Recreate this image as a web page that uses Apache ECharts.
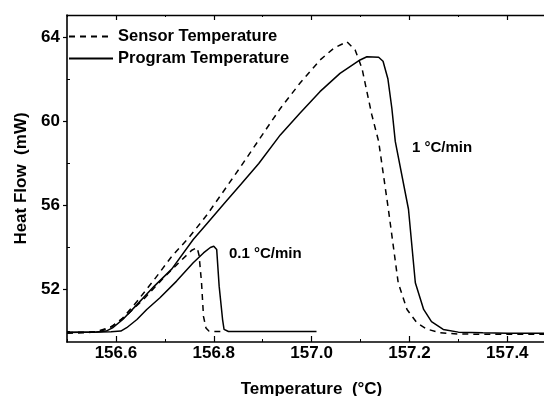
<!DOCTYPE html>
<html><head><meta charset="utf-8">
<script src="https://cdn.jsdelivr.net/npm/echarts@6/dist/echarts.min.js"></script>
<style>html,body{margin:0;padding:0;background:#fff}#c{width:544px;height:396px}</style>
</head><body><div id="c"></div>
<script>
// ---- tick labels ----
const xTickLabels = [156.6, 156.8, 157.0, 157.2, 157.4];
const xMinorTicks = [156.5, 156.7, 156.9, 157.1, 157.3];
const yTickLabels = [52, 56, 60, 64];
const yMinorTicks = [50, 54, 58, 62];

// ---- 1 °C/min, sensor temperature (dashed) ----
const sensor1T  = [156.50,156.54,156.572,156.593,156.614,156.643,156.678,156.714,156.749,156.785,156.82,156.856,156.895,156.936,156.976,157.017,157.045,157.072,157.089,157.103,157.113,157.123,157.137,157.157,157.177,157.195,157.215,157.235,157.263,157.30,157.35,157.475];
const sensor1HF = [49.90,49.92,50.02,50.23,50.62,51.41,52.44,53.55,54.45,55.50,56.66,57.86,59.20,60.60,61.80,62.90,63.46,63.78,63.38,62.51,61.40,60.30,59.03,55.78,52.30,51.03,50.40,50.10,49.92,49.86,49.85,49.85];

// ---- 1 °C/min, program temperature (solid) ----
const program1T  = [156.50,156.53,156.56,156.58,156.593,156.614,156.643,156.678,156.714,156.758,156.785,156.82,156.856,156.892,156.936,156.976,157.017,157.058,157.099,157.113,157.137,157.146,157.156,157.164,157.171,157.198,157.212,157.229,157.245,157.269,157.30,157.35,157.40,157.475];
const program1HF = [49.93,49.95,49.96,50.00,50.15,50.55,51.26,52.13,52.95,54.36,55.09,56.04,57.00,57.98,59.34,60.37,61.40,62.27,62.91,63.06,63.04,62.85,62.00,60.61,59.03,55.80,52.30,51.03,50.45,50.08,49.95,49.92,49.90,49.90];

// ---- 0.1 °C/min, sensor temperature (dashed) ----
const sensor01T  = [156.50,156.56,156.59,156.62,156.66,156.70,156.735,156.755,156.766,156.770,156.775,156.779,156.784,156.79,156.80,156.82];
const sensor01HF = [49.92,49.97,50.20,50.70,51.60,52.60,53.40,53.85,53.97,53.60,52.30,50.70,50.15,50.00,49.98,49.98];

// ---- 0.1 °C/min, program temperature (solid) ----
const program01T  = [156.50,156.55,156.59,156.61,156.622,156.643,156.663,156.69,156.724,156.758,156.779,156.793,156.800,156.806,156.811,156.818,156.821,156.83,157.01];
const program01HF = [49.95,49.95,49.97,50.00,50.16,50.55,51.03,51.59,52.38,53.25,53.72,53.98,54.04,53.88,52.14,50.55,50.08,49.98,49.98];

const seriesNames = ['Sensor Temperature', 'Program Temperature'];
const rateLabels = ['1 °C/min', '0.1 °C/min'];
const rateLabelPos = [[157.205, 58.73], [156.831, 53.69]];

const zip = (a, b) => a.map((v, i) => [v, b[i]]);
const FONT = '"Liberation Sans", Arial, sans-serif';
const txt = {color: '#000', fontFamily: FONT, fontWeight: 'bold', fontSize: 17};

const chart = echarts.init(document.getElementById('c'), null, {renderer: 'canvas'});
const xBase = {type: 'value', min: 156.5, max: 157.475, splitLine: {show: false}};
const yBase = {type: 'value', min: 49.48, max: 65.05, splitLine: {show: false}};
const dashed = {color: '#000', width: 1.5, type: [6, 5]};
const solid = {color: '#000', width: 1.5, type: 'solid'};

chart.setOption({
  animation: false,
  backgroundColor: '#fff',
  grid: {left: 67, right: 0, top: 15, bottom: 54, containLabel: false, outerBoundsMode: 'none'},
  legend: {
    data: seriesNames, orient: 'vertical', left: 63, top: 23,
    itemWidth: 44, itemHeight: 14, itemGap: 5, selectedMode: false,
    itemStyle: {opacity: 0},
    textStyle: Object.assign({}, txt, {fontSize: 16.5})
  },
  xAxis: [
    Object.assign({}, xBase, {
      position: 'bottom',
      axisLine: {show: true, lineStyle: {color: '#000', width: 1.6}},
      axisTick: {show: true, customValues: xTickLabels, inside: true, length: 6, lineStyle: {color: '#000', width: 1.2}},
      axisLabel: Object.assign({show: true, customValues: xTickLabels, margin: 3, formatter: v => v.toFixed(1)}, txt),
      name: 'Temperature  (°C)', nameLocation: 'middle', nameGap: 39,
      nameTextStyle: Object.assign({}, txt, {padding: [0, 0, 0, 12]})
    }),
    Object.assign({}, xBase, {
      position: 'bottom',
      axisLine: {show: false},
      axisTick: {show: true, customValues: xMinorTicks, inside: true, length: 3, lineStyle: {color: '#000', width: 1}},
      axisLabel: {show: false}
    }),
    Object.assign({}, xBase, {
      position: 'top',
      axisLine: {show: true, lineStyle: {color: '#000', width: 1.4}},
      axisTick: {show: true, customValues: xTickLabels, inside: true, length: 5, lineStyle: {color: '#000', width: 1.2}},
      axisLabel: {show: false}
    }),
    Object.assign({}, xBase, {
      position: 'top',
      axisLine: {show: false},
      axisTick: {show: true, customValues: xMinorTicks, inside: true, length: 2, lineStyle: {color: '#000', width: 1}},
      axisLabel: {show: false}
    })
  ],
  yAxis: [
    Object.assign({}, yBase, {
      position: 'left',
      axisLine: {show: true, lineStyle: {color: '#000', width: 1.6}},
      axisTick: {show: true, customValues: yTickLabels, inside: false, length: 4, lineStyle: {color: '#000', width: 1.2}},
      axisLabel: Object.assign({show: true, customValues: yTickLabels, margin: 7}, txt),
      name: 'Heat Flow  (mW)', nameLocation: 'middle', nameGap: 32, nameRotate: 90,
      nameTextStyle: txt
    }),
    Object.assign({}, yBase, {
      position: 'left',
      axisLine: {show: false},
      axisTick: {show: true, customValues: yMinorTicks, inside: true, length: 3, lineStyle: {color: '#000', width: 1}},
      axisLabel: {show: false}
    })
  ],
  series: [
    {name: seriesNames[0], type: 'line', symbol: 'none', lineStyle: dashed, data: zip(sensor1T, sensor1HF),
     markPoint: {symbol: 'circle', symbolSize: 0, silent: true,
       label: Object.assign({show: true, position: 'right', distance: 0}, txt, {fontSize: 15}),
       data: [
         {coord: rateLabelPos[0], label: {formatter: rateLabels[0]}},
         {coord: rateLabelPos[1], label: {formatter: rateLabels[1]}}
       ]}},
    {name: seriesNames[1], type: 'line', symbol: 'none', lineStyle: solid, data: zip(program1T, program1HF)},
    {name: seriesNames[0], type: 'line', symbol: 'none', lineStyle: dashed, data: zip(sensor01T, sensor01HF)},
    {name: seriesNames[1], type: 'line', symbol: 'none', lineStyle: solid, data: zip(program01T, program01HF)}
  ]
});
</script></body></html>
